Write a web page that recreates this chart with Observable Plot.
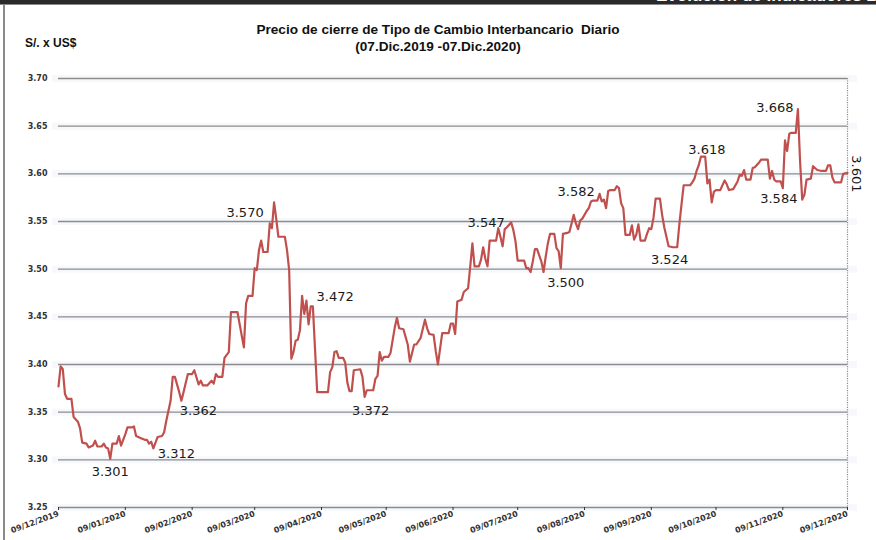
<!DOCTYPE html>
<html>
<head>
<meta charset="utf-8">
<script src="https://cdn.jsdelivr.net/npm/d3@7"></script>
<script src="https://cdn.jsdelivr.net/npm/@observablehq/plot@0.6"></script>
<style>
  html, body { margin: 0; padding: 0; background: #fff; }
  #wrap { position: relative; width: 876px; height: 540px; overflow: hidden; background: #fff; }
  #chart { position: absolute; left: 0; top: 0; }
  .hdr { position: absolute; left: 0; top: 0; width: 876px; height: 4px; background: #2a2a2a; overflow: hidden; }
  .hdr span { position: absolute; left: 656px; top: -14px; font: bold 17px "Liberation Sans", sans-serif; color: #fff; white-space: nowrap; }
  .hdrline { position: absolute; left: 0; top: 4px; width: 876px; height: 1px; background: #8a8a8a; }
  .lborder { position: absolute; left: 3px; top: 4px; width: 2px; height: 536px; background: #8a8a8a; }
  .title { position: absolute; left: 0; width: 876px; text-align: center; font: bold 13.6px "Liberation Sans", Arial, sans-serif; color: #111; white-space: pre; }
  .unit { position: absolute; left: 25px; top: 36px; font: bold 12px "Liberation Sans", Arial, sans-serif; color: #111; }
</style>
</head>
<body>
<div id="wrap">
  <div id="chart"></div>
  <div class="hdr"><span>Evolución de Indicadores 2020</span></div>
  <div class="hdrline"></div>
  <div class="lborder"></div>
  <div class="title" style="top:22px">Precio de cierre de Tipo de Cambio Interbancario  Diario</div>
  <div class="title" style="top:39px">(07.Dic.2019 -07.Dic.2020)</div>
  <div class="unit">S/. x US$</div>
</div>
<script>
// ---- data ----
const dates = [
"2019-12-09","2019-12-10","2019-12-11","2019-12-12","2019-12-13","2019-12-15","2019-12-16","2019-12-18","2019-12-19","2019-12-20",
"2019-12-22","2019-12-23","2019-12-25","2019-12-26","2019-12-27","2019-12-29","2019-12-30","2019-12-31","2020-01-01","2020-01-02",
"2020-01-03","2020-01-05","2020-01-06","2020-01-07","2020-01-09","2020-01-10","2020-01-12","2020-01-13","2020-01-14","2020-01-16",
"2020-01-18","2020-01-19","2020-01-20","2020-01-21","2020-01-22","2020-01-24","2020-01-26","2020-01-27","2020-01-28","2020-01-30",
"2020-01-31","2020-02-01","2020-02-03","2020-02-04","2020-02-05","2020-02-07","2020-02-09","2020-02-10","2020-02-12","2020-02-13",
"2020-02-14","2020-02-16","2020-02-18","2020-02-19","2020-02-20","2020-02-21","2020-02-23","2020-02-24","2020-02-26","2020-02-27",
"2020-03-01","2020-03-04","2020-03-05","2020-03-06","2020-03-08","2020-03-09","2020-03-10","2020-03-11","2020-03-12","2020-03-13",
"2020-03-15","2020-03-16","2020-03-17","2020-03-18","2020-03-19","2020-03-20","2020-03-23","2020-03-24","2020-03-25","2020-03-26",
"2020-03-27","2020-03-28","2020-03-29","2020-03-30","2020-03-31","2020-04-01","2020-04-02","2020-04-03","2020-04-04","2020-04-05",
"2020-04-07","2020-04-12","2020-04-13","2020-04-14","2020-04-15","2020-04-16","2020-04-17","2020-04-19","2020-04-20","2020-04-21",
"2020-04-22","2020-04-23","2020-04-24","2020-04-27","2020-04-28","2020-04-29","2020-04-30","2020-05-03","2020-05-04","2020-05-05",
"2020-05-06","2020-05-07","2020-05-08","2020-05-10","2020-05-11","2020-05-13","2020-05-14","2020-05-15","2020-05-17","2020-05-18",
"2020-05-19","2020-05-20","2020-05-22","2020-05-23","2020-05-25","2020-05-27","2020-05-28","2020-05-29","2020-05-31","2020-06-01",
"2020-06-02","2020-06-04","2020-06-07","2020-06-08","2020-06-09","2020-06-10","2020-06-11","2020-06-13","2020-06-14","2020-06-16",
"2020-06-17","2020-06-18","2020-06-19","2020-06-21","2020-06-22","2020-06-23","2020-06-24","2020-06-25","2020-06-26","2020-06-29",
"2020-06-30","2020-07-01","2020-07-02","2020-07-03","2020-07-04","2020-07-06","2020-07-07","2020-07-08","2020-07-09","2020-07-12",
"2020-07-13","2020-07-14","2020-07-15","2020-07-16","2020-07-17","2020-07-18","2020-07-20","2020-07-21","2020-07-22","2020-07-23",
"2020-07-24","2020-07-26","2020-07-27","2020-07-28","2020-07-29","2020-07-30","2020-08-01","2020-08-02","2020-08-03","2020-08-04",
"2020-08-05","2020-08-06","2020-08-07","2020-08-08","2020-08-10","2020-08-11","2020-08-12","2020-08-13","2020-08-15","2020-08-16",
"2020-08-17","2020-08-18","2020-08-19","2020-08-20","2020-08-21","2020-08-23","2020-08-24","2020-08-25","2020-08-26","2020-08-27",
"2020-08-28","2020-08-30","2020-08-31","2020-09-01","2020-09-02","2020-09-03","2020-09-04","2020-09-06","2020-09-07","2020-09-08",
"2020-09-09","2020-09-10","2020-09-11","2020-09-13","2020-09-14","2020-09-15","2020-09-17","2020-09-19","2020-09-21","2020-09-22",
"2020-09-23","2020-09-24","2020-09-27","2020-09-28","2020-09-29","2020-09-30","2020-10-01","2020-10-02","2020-10-04","2020-10-05",
"2020-10-06","2020-10-07","2020-10-08","2020-10-09","2020-10-11","2020-10-13","2020-10-14","2020-10-15","2020-10-17","2020-10-19",
"2020-10-20","2020-10-21","2020-10-22","2020-10-23","2020-10-25","2020-10-26","2020-10-27","2020-10-29","2020-10-30","2020-11-02",
"2020-11-03","2020-11-04","2020-11-05","2020-11-06","2020-11-08","2020-11-09","2020-11-10","2020-11-11","2020-11-12","2020-11-13",
"2020-11-15","2020-11-16","2020-11-17","2020-11-18","2020-11-19","2020-11-20","2020-11-22","2020-11-23","2020-11-25","2020-11-27",
"2020-11-29","2020-11-30","2020-12-01","2020-12-02","2020-12-03","2020-12-06","2020-12-07","2020-12-09"
];
const closes = [
3.377,3.398,3.395,3.369,3.364,3.364,3.345,3.340,3.333,3.318,
3.317,3.313,3.315,3.320,3.314,3.314,3.317,3.313,3.312,3.301,
3.317,3.317,3.325,3.315,3.327,3.334,3.334,3.335,3.325,3.323,
3.321,3.321,3.317,3.319,3.312,3.324,3.325,3.329,3.341,3.362,
3.387,3.387,3.371,3.362,3.371,3.390,3.390,3.394,3.379,3.383,
3.378,3.378,3.383,3.380,3.390,3.387,3.387,3.407,3.413,3.455,
3.455,3.418,3.464,3.472,3.472,3.501,3.499,3.520,3.530,3.518,
3.518,3.548,3.543,3.570,3.553,3.534,3.534,3.520,3.499,3.406,
3.413,3.425,3.426,3.436,3.472,3.453,3.467,3.442,3.461,3.461,
3.371,3.371,3.392,3.397,3.413,3.414,3.407,3.407,3.402,3.381,
3.372,3.372,3.394,3.395,3.387,3.366,3.373,3.373,3.385,3.388,
3.413,3.404,3.408,3.408,3.412,3.439,3.449,3.438,3.437,3.429,
3.421,3.403,3.421,3.421,3.428,3.447,3.438,3.432,3.431,3.414,
3.400,3.433,3.433,3.443,3.443,3.432,3.466,3.468,3.476,3.480,
3.503,3.527,3.503,3.503,3.510,3.523,3.511,3.503,3.530,3.530,
3.543,3.534,3.524,3.542,3.544,3.549,3.541,3.529,3.509,3.509,
3.501,3.501,3.497,3.508,3.521,3.521,3.508,3.497,3.513,3.527,
3.537,3.537,3.522,3.519,3.501,3.537,3.538,3.539,3.548,3.557,
3.548,3.542,3.551,3.553,3.561,3.564,3.571,3.572,3.572,3.579,
3.571,3.573,3.564,3.582,3.583,3.583,3.587,3.585,3.569,3.564,
3.536,3.536,3.546,3.531,3.536,3.547,3.530,3.530,3.537,3.543,
3.542,3.554,3.574,3.574,3.557,3.544,3.524,3.523,3.523,3.547,
3.568,3.588,3.588,3.591,3.595,3.603,3.609,3.618,3.618,3.590,
3.594,3.570,3.581,3.583,3.583,3.593,3.589,3.583,3.584,3.592,
3.599,3.598,3.604,3.594,3.594,3.606,3.607,3.612,3.615,3.615,
3.595,3.603,3.594,3.592,3.592,3.585,3.635,3.624,3.642,3.643,
3.643,3.668,3.613,3.573,3.578,3.594,3.595,3.608,3.604,3.603,
3.603,3.609,3.609,3.596,3.591,3.591,3.600,3.601
];
const tickDates = ["2019-12-09","2020-01-09","2020-02-09","2020-03-09","2020-04-09","2020-05-09","2020-06-09","2020-07-09","2020-08-09","2020-09-09","2020-10-09","2020-11-09","2020-12-09"];
const tickLabels = ["09/12/2019","09/01/2020","09/02/2020","09/03/2020","09/04/2020","09/05/2020","09/06/2020","09/07/2020","09/08/2020","09/09/2020","09/10/2020","09/11/2020","09/12/2020"];
const yTicks = [3.25,3.30,3.35,3.40,3.45,3.50,3.55,3.60,3.65,3.70];
const yTickLabels = ["3.25","3.30","3.35","3.40","3.45","3.50","3.55","3.60","3.65","3.70"];
const labelDates = ["2020-01-02","2020-01-22","2020-02-04","2020-03-18","2020-03-31","2020-04-29","2020-07-06","2020-07-29","2020-08-20","2020-09-17","2020-10-02","2020-11-16","2020-11-09","2020-12-09"];
const labelValues = [3.301,3.312,3.362,3.570,3.472,3.372,3.547,3.500,3.582,3.524,3.618,3.668,3.584,3.601];
const labelTexts = ["3.301","3.312","3.362","3.570","3.472","3.372","3.547","3.500","3.582","3.524","3.618","3.668","3.584","3.601"];

// ---- layout / style (not data) ----
const labelOffsets = [[0,13],[23,5],[17,10],[-29,10],[33,1],[6,20],[-25,-2],[5,14],[-32,1],[1,14],[6,-7],[-23,-1],[-4,10],[9,1]];
const labelRotate = [0,0,0,0,0,0,0,0,0,0,0,0,0,90];

const series = dates.map((d, i) => ({date: new Date(d), value: closes[i]}));
const ticksX = tickDates.map(d => new Date(d));
const tickLabelByTime = new Map(ticksX.map((d, i) => [+d, tickLabels[i]]));
const yLabelByValue = new Map(yTicks.map((v, i) => [v.toFixed(2), yTickLabels[i]]));
const xStart = new Date(tickDates[0]);
const xEnd = new Date(tickDates[tickDates.length - 1]);

const annotations = labelDates.map((d, i) => ({date: new Date(d), value: labelValues[i], text: labelTexts[i], i}));

const chart = Plot.plot({
  width: 876,
  height: 540,
  marginLeft: 58,
  marginRight: 29,
  marginTop: 78,
  marginBottom: 33,
  style: {fontFamily: "DejaVu Sans, sans-serif", background: "transparent", overflow: "visible"},
  x: {type: "utc", domain: [xStart, xEnd]},
  y: {domain: [yTicks[0], yTicks[yTicks.length - 1]]},
  marks: [
    // soft halo behind gridlines
    Plot.ruleY(yTicks, {stroke: "#e3e8f2", strokeWidth: 7, strokeOpacity: 0.3, insetLeft: -6, insetRight: -10}),
    Plot.ruleY(yTicks, {stroke: "#8c8c8c", strokeWidth: 1.3}),
    Plot.ruleX([xEnd], {stroke: "#8c8c8c", strokeWidth: 1.2, strokeDasharray: "1.2,1.2"}),
    Plot.axisY({ticks: yTicks, tickSize: 0, tickPadding: 11, tickFormat: v => yLabelByValue.get(v.toFixed(2)),
      fontSize: 8, fontWeight: "bold", color: "#333", label: null}),
    Plot.axisX({ticks: ticksX, tickSize: 3, tickPadding: 3, tickRotate: -20,
      tickFormat: d => tickLabelByTime.get(+d), fontSize: 8, fontWeight: "bold", color: "#333", label: null}),
    Plot.line(series, {x: "date", y: "value", stroke: "#c0504d", strokeWidth: 2.2, strokeLinejoin: "round"}),
    ...annotations.map(a => Plot.text([a], {
      x: "date", y: "value", text: "text",
      dx: labelOffsets[a.i][0], dy: labelOffsets[a.i][1], rotate: labelRotate[a.i],
      fontSize: 13, fill: "#1a1a1a", fontFamily: "DejaVu Sans, sans-serif"
    }))
  ]
});
document.getElementById("chart").appendChild(chart);
</script>
</body>
</html>
